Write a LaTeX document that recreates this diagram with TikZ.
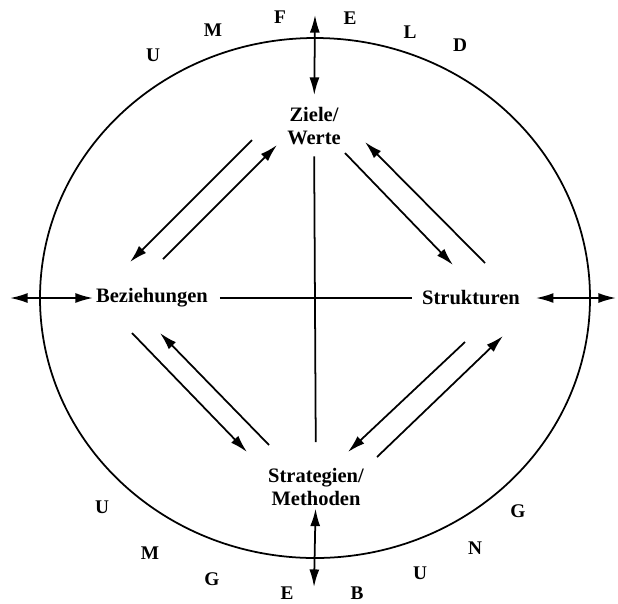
\documentclass[tikz,border=0pt]{standalone}
\usepackage{fontspec}
\setmainfont{Liberation Serif}
\usetikzlibrary{arrows.meta,positioning}

\begin{document}
\begin{tikzpicture}[x=0.03cm,y=-0.03cm,>={Latex[length=15pt,width=8.5pt]},line width=1.5pt]
  \tikzstyle{begriff}=[align=center,inner sep=2pt,font=\fontsize{17.5}{19}\selectfont\bfseries]
  \tikzstyle{buchst}=[inner sep=0pt,font=\fontsize{16.5}{18}\selectfont\bfseries]
  \useasboundingbox (0,0) rectangle (618,603);
  % Umfeld
  \draw (315,298) ellipse [x radius=275,y radius=260];
  \node[buchst] (u1) at (153,55) {U};
  \node[buchst] (m1) at (213,30) {M};
  \node[buchst] (f1) at (280,17) {F};
  \node[buchst] (e1) at (350,18) {E};
  \node[buchst] (l1) at (410,32) {L};
  \node[buchst] (d1) at (460,45) {D};
  \node[buchst] (u2) at (102,507) {U};
  \node[buchst] (m2) at (150,553) {M};
  \node[buchst] (g1) at (212,579) {G};
  \node[buchst] (e2) at (287,593) {E};
  \node[buchst] (b1) at (357,593) {B};
  \node[buchst] (u3) at (420,573) {U};
  \node[buchst] (n1) at (475,548) {N};
  \node[buchst] (g2) at (518,511) {G};
  % Begriffe
  \node[begriff] (ziele) at (314,126) {Ziele/\\Werte};
  \node[begriff] (bez) at (152,298) {Beziehungen};
  \node[begriff] (struk) at (471,298) {Strukturen};
  \node[begriff] (strat) at (316,487) {Strategien/\\Methoden};
  % nach aussen
  \coordinate (oben) at (315,15);
  \coordinate (unten) at (314,587);
  \coordinate (links) at (10,298);
  \coordinate (rechts) at (616,298);
  \draw[<->,shorten <=8pt] (ziele) -- (oben);
  \draw[<->] (strat) -- (unten);
  \draw[<->] (bez.west) -- (links);
  \draw[<->,shorten <=11pt] (struk.east) -- (rechts);
  % Kreuz
  \draw[shorten <=7.5pt,shorten >=20pt] (ziele) -- (strat);
  \draw[shorten <=7.5pt,shorten >=6pt] (bez) -- (struk);
  % Wechselwirkungen
  \coordinate (zb1) at (252,140); \coordinate (zb2) at (130,262);
  \coordinate (bz1) at (163,259); \coordinate (bz2) at (277,145);
  \coordinate (zs1) at (345,153); \coordinate (zs2) at (453,265);
  \coordinate (sz1) at (485,263); \coordinate (sz2) at (365,142);
  \coordinate (bm1) at (132,333); \coordinate (bm2) at (247,452);
  \coordinate (mb1) at (269,445); \coordinate (mb2) at (160,333);
  \coordinate (sm1) at (465,342); \coordinate (sm2) at (348,452);
  \coordinate (ms1) at (377,457); \coordinate (ms2) at (503,336);
  \draw[->] (zb1) -- (zb2);
  \draw[->] (bz1) -- (bz2);
  \draw[->] (zs1) -- (zs2);
  \draw[->] (sz1) -- (sz2);
  \draw[->] (bm1) -- (bm2);
  \draw[->] (mb1) -- (mb2);
  \draw[->] (sm1) -- (sm2);
  \draw[->] (ms1) -- (ms2);
\end{tikzpicture}
\end{document}
